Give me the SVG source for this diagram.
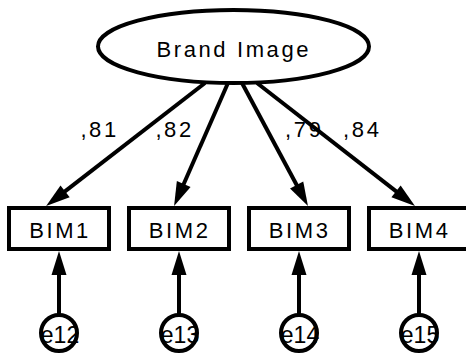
<svg xmlns="http://www.w3.org/2000/svg" width="466" height="355" viewBox="0 0 466 355">
<style>
.shape{fill:#fff;stroke:#000;stroke-width:4}
.lbl{font-family:"Liberation Sans",Arial,sans-serif;font-size:22px;letter-spacing:2.6px;fill:#000}
.elbl{font-family:"Liberation Sans",Arial,sans-serif;font-size:23px;fill:#000;text-anchor:middle}
.edge{stroke:#000;stroke-width:4;fill:none;marker-end:url(#arr)}
</style>
<defs>
<marker id="arr" markerUnits="userSpaceOnUse" markerWidth="24" markerHeight="15" refX="12" refY="7.5" orient="auto" overflow="visible">
<path d="M0,0 L24,7.5 L0,15 z" fill="#000"/>
</marker>
</defs>
<rect width="466" height="355" fill="#fff"/>
<g id="connectors">
<line class="edge" x1="205" y1="83" x2="55.6" y2="198.7"/>
<line class="edge" x1="228" y1="83" x2="178.9" y2="195"/>
<line class="edge" x1="242" y1="83" x2="302.3" y2="195.5"/>
<line class="edge" x1="257" y1="83" x2="405.5" y2="198.7"/>
<line class="edge" x1="59" y1="314" x2="59" y2="263"/>
<line class="edge" x1="179" y1="314" x2="179" y2="263"/>
<line class="edge" x1="299" y1="314" x2="299" y2="263"/>
<line class="edge" x1="419" y1="314" x2="419" y2="263"/>
</g>
<g id="labels">
<text class="lbl" x="80.4" y="137">,81</text>
<text class="lbl" x="155.4" y="137">,82</text>
<text class="lbl" x="285.1" y="137">,79</text>
<text class="lbl" x="343.1" y="137">,84</text>
</g>
<g id="brand-image">
<ellipse class="shape" cx="233.5" cy="46.5" rx="135.5" ry="36.5"/>
<text class="lbl" x="156.5" y="57.3">Brand Image</text>
</g>
<g id="BIM1">
<rect class="shape" x="9" y="208" width="100" height="41"/>
<text class="lbl" x="29.2" y="238.3">BIM1</text>
</g>
<g id="BIM2">
<rect class="shape" x="129" y="208" width="100" height="41"/>
<text class="lbl" x="148.8" y="238.3">BIM2</text>
</g>
<g id="BIM3">
<rect class="shape" x="249" y="208" width="100" height="41"/>
<text class="lbl" x="268.8" y="238.3">BIM3</text>
</g>
<g id="BIM4">
<rect class="shape" x="369" y="208" width="100" height="41"/>
<text class="lbl" x="388.8" y="238.3">BIM4</text>
</g>
<g id="e12">
<circle class="shape" cx="59" cy="333" r="18"/>
<text class="elbl" x="60" y="342.5">e12</text>
</g>
<g id="e13">
<circle class="shape" cx="179" cy="333" r="18"/>
<text class="elbl" x="180" y="342.5">e13</text>
</g>
<g id="e14">
<circle class="shape" cx="299" cy="333" r="18"/>
<text class="elbl" x="300" y="342.5">e14</text>
</g>
<g id="e15">
<circle class="shape" cx="419" cy="333" r="18"/>
<text class="elbl" x="420" y="342.5">e15</text>
</g>
</svg>
